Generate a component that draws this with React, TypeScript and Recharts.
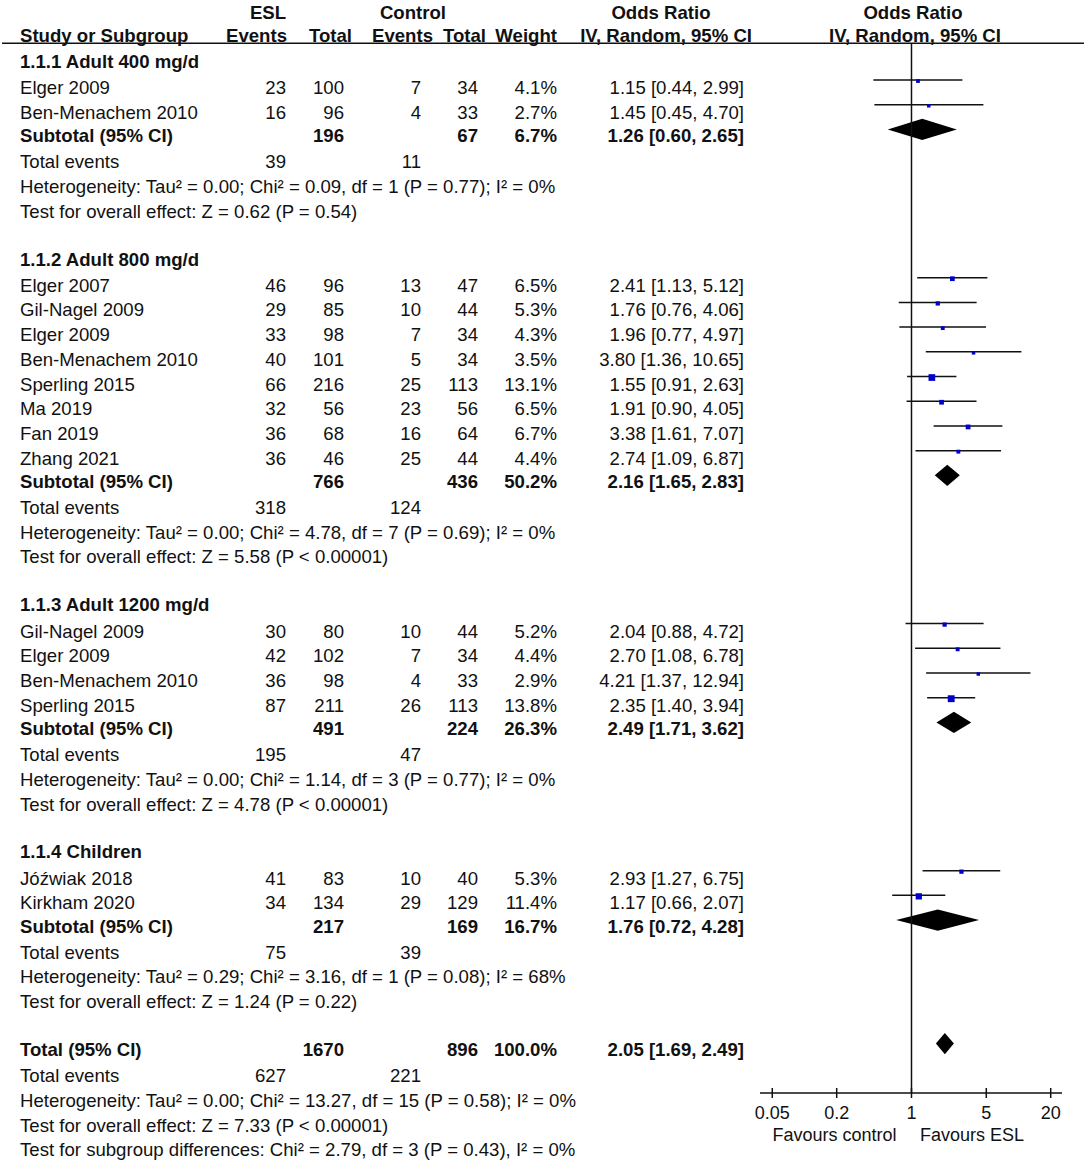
import {
  ScatterChart, Scatter, XAxis, YAxis, ErrorBar,
  ReferenceLine, ReferenceArea, ReferenceDot,
} from 'recharts'

const groupTitles = ['1.1.1 Adult 400 mg/d', '1.1.2 Adult 800 mg/d', '1.1.3 Adult 1200 mg/d', '1.1.4 Children']

const studyGroup = [0, 0, 1, 1, 1, 1, 1, 1, 1, 1, 2, 2, 2, 2, 3, 3]
const studyNames = [
  'Elger 2009', 'Ben-Menachem 2010',
  'Elger 2007', 'Gil-Nagel 2009', 'Elger 2009', 'Ben-Menachem 2010', 'Sperling 2015', 'Ma 2019', 'Fan 2019', 'Zhang 2021',
  'Gil-Nagel 2009', 'Elger 2009', 'Ben-Menachem 2010', 'Sperling 2015',
  'Jóźwiak 2018', 'Kirkham 2020',
]
const eslEvents = [23, 16, 46, 29, 33, 40, 66, 32, 36, 36, 30, 42, 36, 87, 41, 34]
const eslTotal = [100, 96, 96, 85, 98, 101, 216, 56, 68, 46, 80, 102, 98, 211, 83, 134]
const ctlEvents = [7, 4, 13, 10, 7, 5, 25, 23, 16, 25, 10, 7, 4, 26, 10, 29]
const ctlTotal = [34, 33, 47, 44, 34, 34, 113, 56, 64, 44, 44, 34, 33, 113, 40, 129]
const weights = [4.1, 2.7, 6.5, 5.3, 4.3, 3.5, 13.1, 6.5, 6.7, 4.4, 5.2, 4.4, 2.9, 13.8, 5.3, 11.4]
const orMid = [1.15, 1.45, 2.41, 1.76, 1.96, 3.80, 1.55, 1.91, 3.38, 2.74, 2.04, 2.70, 4.21, 2.35, 2.93, 1.17]
const orLow = [0.44, 0.45, 1.13, 0.76, 0.77, 1.36, 0.91, 0.90, 1.61, 1.09, 0.88, 1.08, 1.37, 1.40, 1.27, 0.66]
const orHigh = [2.99, 4.70, 5.12, 4.06, 4.97, 10.65, 2.63, 4.05, 7.07, 6.87, 4.72, 6.78, 12.94, 3.94, 6.75, 2.07]

const subEslTotal = [196, 766, 491, 217]
const subCtlTotal = [67, 436, 224, 169]
const subWeight = [6.7, 50.2, 26.3, 16.7]
const subOr = [1.26, 2.16, 2.49, 1.76]
const subLow = [0.60, 1.65, 1.71, 0.72]
const subHigh = [2.65, 2.83, 3.62, 4.28]
const subEslEvents = [39, 318, 195, 75]
const subCtlEvents = [11, 124, 47, 39]
const subHet = [
  'Tau² = 0.00; Chi² = 0.09, df = 1 (P = 0.77); I² = 0%',
  'Tau² = 0.00; Chi² = 4.78, df = 7 (P = 0.69); I² = 0%',
  'Tau² = 0.00; Chi² = 1.14, df = 3 (P = 0.77); I² = 0%',
  'Tau² = 0.29; Chi² = 3.16, df = 1 (P = 0.08); I² = 68%',
]
const subEffect = ['Z = 0.62 (P = 0.54)', 'Z = 5.58 (P < 0.00001)', 'Z = 4.78 (P < 0.00001)', 'Z = 1.24 (P = 0.22)']

const totalEsl = 1670
const totalCtl = 896
const totalOr = [2.05, 1.69, 2.49]
const totalEvents = [627, 221]
const totalHet = 'Tau² = 0.00; Chi² = 13.27, df = 15 (P = 0.58); I² = 0%'
const totalEffect = 'Z = 7.33 (P < 0.00001)'
const subgroupDiff = 'Chi² = 2.79, df = 3 (P = 0.43), I² = 0%'

const axisTicks = [0.05, 0.2, 1, 5, 20]

const FONT = '"Liberation Sans", Arial, Helvetica, sans-serif'
const INK = '#111'
const BLUE = '#0000cc'
const FS = 18.6 // table text
const AXIS_FS = 18

// anchor x of the table columns (px)
const COL = { name: 20, eslEv: 286, eslTot: 344, ctlEv: 421, ctlTot: 478, weight: 557, or: 744 }

type Cell = { x: number; text: string | number; anchor?: 'start' | 'middle' | 'end'; bold?: boolean }
type Row = { r: number; cells: Cell[]; dy?: number; rule?: boolean }

const ci = (m: number, l: number, h: number) => `${m.toFixed(2)} [${l.toFixed(2)}, ${h.toFixed(2)}]`
const pct = (w: number) => `${w.toFixed(1)}%`

function buildLayout() {
  const rows: Row[] = []
  const points: any[] = []
  const diamonds: any[] = []
  const B = true
  const BOLD_DY = 12.5

  rows.push({
    r: -2, dy: 13, cells: [
      { x: 268, text: 'ESL', anchor: 'middle', bold: B },
      { x: 413, text: 'Control', anchor: 'middle', bold: B },
      { x: 661, text: 'Odds Ratio', anchor: 'middle', bold: B },
      { x: 913, text: 'Odds Ratio', anchor: 'middle', bold: B },
    ],
  })
  rows.push({
    r: -1, dy: 11, rule: true, cells: [
      { x: COL.name, text: 'Study or Subgroup', bold: B },
      { x: 287, text: 'Events', anchor: 'end', bold: B },
      { x: 352, text: 'Total', anchor: 'end', bold: B },
      { x: 433, text: 'Events', anchor: 'end', bold: B },
      { x: 486, text: 'Total', anchor: 'end', bold: B },
      { x: 557, text: 'Weight', anchor: 'end', bold: B },
      { x: 752, text: 'IV, Random, 95% CI', anchor: 'end', bold: B },
      { x: 915, text: 'IV, Random, 95% CI', anchor: 'middle', bold: B },
    ],
  })

  let r = 0
  groupTitles.forEach((title, g) => {
    rows.push({ r: r++, dy: BOLD_DY, cells: [{ x: COL.name, text: title, bold: B }] })
    studyNames.forEach((name, i) => {
      if (studyGroup[i] !== g) return
      rows.push({
        r, cells: [
          { x: COL.name, text: name },
          { x: COL.eslEv, text: eslEvents[i], anchor: 'end' },
          { x: COL.eslTot, text: eslTotal[i], anchor: 'end' },
          { x: COL.ctlEv, text: ctlEvents[i], anchor: 'end' },
          { x: COL.ctlTot, text: ctlTotal[i], anchor: 'end' },
          { x: COL.weight, text: pct(weights[i]), anchor: 'end' },
          { x: COL.or, text: ci(orMid[i], orLow[i], orHigh[i]), anchor: 'end' },
        ],
      })
      points.push({ row: r, or: orMid[i], weight: weights[i], err: [orMid[i] - orLow[i], orHigh[i] - orMid[i]] })
      r++
    })
    rows.push({
      r, dy: BOLD_DY, cells: [
        { x: COL.name, text: 'Subtotal (95% CI)', bold: B },
        { x: COL.eslTot, text: subEslTotal[g], anchor: 'end', bold: B },
        { x: COL.ctlTot, text: subCtlTotal[g], anchor: 'end', bold: B },
        { x: COL.weight, text: pct(subWeight[g]), anchor: 'end', bold: B },
        { x: COL.or, text: ci(subOr[g], subLow[g], subHigh[g]), anchor: 'end', bold: B },
      ],
    })
    diamonds.push({ r, or: subOr[g], lo: subLow[g], hi: subHigh[g] })
    r++
    rows.push({
      r: r++, cells: [
        { x: COL.name, text: 'Total events' },
        { x: COL.eslEv, text: subEslEvents[g], anchor: 'end' },
        { x: COL.ctlEv, text: subCtlEvents[g], anchor: 'end' },
      ],
    })
    rows.push({ r: r++, cells: [{ x: COL.name, text: 'Heterogeneity: ' + subHet[g] }] })
    rows.push({ r: r++, cells: [{ x: COL.name, text: 'Test for overall effect: ' + subEffect[g] }] })
    r++
  })

  rows.push({
    r, dy: BOLD_DY, cells: [
      { x: COL.name, text: 'Total (95% CI)', bold: B },
      { x: COL.eslTot, text: totalEsl, anchor: 'end', bold: B },
      { x: COL.ctlTot, text: totalCtl, anchor: 'end', bold: B },
      { x: COL.weight, text: '100.0%', anchor: 'end', bold: B },
      { x: COL.or, text: ci(totalOr[0], totalOr[1], totalOr[2]), anchor: 'end', bold: B },
    ],
  })
  diamonds.push({ r, or: totalOr[0], lo: totalOr[1], hi: totalOr[2] })
  r++
  rows.push({
    r: r++, cells: [
      { x: COL.name, text: 'Total events' },
      { x: COL.eslEv, text: totalEvents[0], anchor: 'end' },
      { x: COL.ctlEv, text: totalEvents[1], anchor: 'end' },
    ],
  })
  rows.push({ r: r++, cells: [{ x: COL.name, text: 'Heterogeneity: ' + totalHet }] })
  rows.push({ r: r++, cells: [{ x: COL.name, text: 'Test for overall effect: ' + totalEffect }] })
  rows.push({ r: r++, cells: [{ x: COL.name, text: 'Test for subgroup differences: ' + subgroupDiff }] })

  return { rows, points, diamonds }
}

const { rows, points, diamonds } = buildLayout()

const RowText = ({ cy, row }: any) => {
  const base = cy + (row.dy ?? 14)
  return (
    <g>
      {row.cells.map((c: Cell, i: number) => (
        <text
          key={i}
          x={c.x}
          y={base}
          textAnchor={c.anchor ?? 'start'}
          fontFamily={FONT}
          fontSize={FS}
          fontWeight={c.bold ? 700 : 400}
          fill={INK}
        >
          {c.text}
        </text>
      ))}
      {row.rule && <line x1={2} x2={1084} y1={cy + 12.5} y2={cy + 12.5} stroke={INK} strokeWidth={1.5} />}
    </g>
  )
}

const FavoursText = ({ cx, cy }: any) => (
  <g fontFamily={FONT} fontSize={AXIS_FS} fill={INK}>
    <text x={cx - 15} y={cy + 12.5} textAnchor="end">Favours control</text>
    <text x={cx + 8.5} y={cy + 12.5} textAnchor="start">Favours ESL</text>
  </g>
)

const Square = ({ cx, cy, payload }: any) => {
  const s = Math.max(3.5, 1.85 * Math.sqrt(payload.weight))
  return <rect x={cx - s / 2} y={cy - s / 2 + 1} width={s} height={s} fill={BLUE} />
}

const Diamond = ({ x, y, width, height, frac }: any) => {
  const mx = x + width * frac
  const my = y + height / 2
  return <polygon points={`${x},${my} ${mx},${y} ${x + width},${my} ${mx},${y + height}`} fill="#000" />
}

const AxisTick = ({ x, y, payload }: any) => (
  <g>
    <line x1={x} x2={x} y1={y - 5} y2={y + 5} stroke={INK} strokeWidth={1.5} />
    <text x={x} y={y + 26} textAnchor="middle" fontFamily={FONT} fontSize={AXIS_FS} fill={INK}>
      {payload.value}
    </text>
  </g>
)

export default function App() {
  return (
    <div style={{ width: 1084, height: 1160, background: '#fff', overflow: 'hidden' }}>
      <style>{'body{margin:0}'}</style>
      <ScatterChart width={1084} height={1160} margin={{ top: 43, right: 22, left: 760, bottom: 0 }}>
        <XAxis
          type="number"
          dataKey="or"
          scale="log"
          domain={[0.0384, 25.5]}
          allowDataOverflow
          ticks={axisTicks}
          interval={0}
          height={67}
          tickSize={0}
          tickMargin={0}
          tickLine={false}
          tick={<AxisTick />}
          axisLine={{ stroke: INK, strokeWidth: 1.5 }}
        />
        <YAxis type="number" dataKey="row" domain={[-0.5, 42]} reversed allowDataOverflow hide />
        <ReferenceLine x={1} stroke={INK} strokeWidth={1.5} />
        {diamonds.map((d, i) => {
          const frac = (Math.log(d.or) - Math.log(d.lo)) / (Math.log(d.hi) - Math.log(d.lo))
          return (
            <ReferenceArea
              key={'d' + i}
              x1={d.lo}
              x2={d.hi}
              y1={d.r - 0.43}
              y2={d.r + 0.43}
              shape={(p: any) => <Diamond {...p} frac={frac} />}
            />
          )
        })}
        <Scatter data={points} shape={<Square />} isAnimationActive={false}>
          <ErrorBar dataKey="err" direction="x" width={0} stroke={INK} strokeWidth={1.5} isAnimationActive={false} />
        </Scatter>
        {rows.map((row, i) => (
          <ReferenceDot
            key={'t' + i}
            x={1}
            y={row.r}
            ifOverflow="visible"
            shape={(p: any) => <RowText {...p} row={row} />}
          />
        ))}
        <ReferenceDot x={1} y={43.45} ifOverflow="visible" shape={(p: any) => <FavoursText {...p} />} />
      </ScatterChart>
    </div>
  )
}
